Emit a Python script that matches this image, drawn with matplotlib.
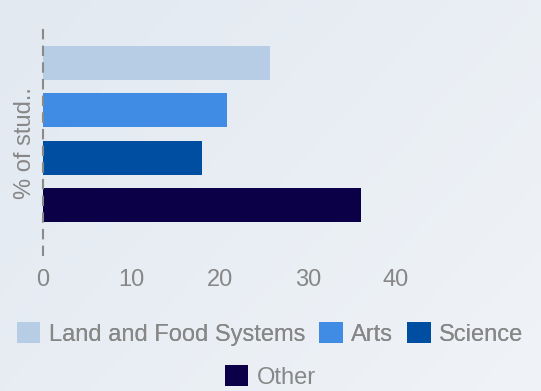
import numpy as np
import matplotlib
matplotlib.use("Agg")
import matplotlib.pyplot as plt
from matplotlib.patches import Patch
from matplotlib.colors import LinearSegmentedColormap

plt.rcParams['font.family'] = ['Liberation Sans', 'DejaVu Sans']

# Dados
categorias = ["Land and Food Systems", "Arts", "Science", "Other"]
valores = [25.7, 20.8, 18.0, 36.0]
cores = ["#b7cde6", "#408be3", "#004ea2", "#0b0048"]
ticks_x = [0, 10, 20, 30, 40]

cinza = "#878787"

fig = plt.figure(figsize=(5.41, 3.91), dpi=100)

# Fundo em gradiente suave
bg = fig.add_axes([0, 0, 1, 1], zorder=-10)
gx, gy = np.meshgrid(np.linspace(0, 1, 200), np.linspace(0, 1, 200))
grad = (gx * 0.6 + gy * 0.4)
cmap_bg = LinearSegmentedColormap.from_list("bg", ["#e2e9f1", "#f0f3f7"])
bg.imshow(grad, cmap=cmap_bg, aspect="auto", extent=[0, 1, 0, 1], origin="upper")
bg.axis("off")

ax = fig.add_axes([43 / 541, 136 / 391, 353 / 541, 233 / 391])
ax.patch.set_alpha(0)

pos = np.arange(len(categorias))
ax.barh(pos, valores, height=0.72, color=cores)

ax.set_xlim(0, 40)
ax.set_ylim(4.06, -0.87)
ax.set_xticks(ticks_x)
ax.set_yticks([])
ax.tick_params(axis="x", length=0, pad=10, labelsize=17, labelcolor=cinza)

for s in ["top", "right", "bottom"]:
    ax.spines[s].set_visible(False)
ax.spines["left"].set_color("#8a8a8a")
ax.spines["left"].set_linewidth(1.5)
ax.spines["left"].set_linestyle((0, (4, 4)))

fig.text(25 / 541, 1 - 143 / 391, "% of stud..", rotation=90, ha="center",
         va="center", fontsize=17, color=cinza)

# Legenda em duas linhas, centralizadas
handles = [Patch(facecolor=c, edgecolor="none", label=l) for c, l in zip(cores, categorias)]
leg_kw = dict(frameon=False, fontsize=17, labelcolor=cinza, handlelength=1.0,
              handleheight=1.0, handletextpad=0.35, columnspacing=0.6,
              borderaxespad=0, borderpad=0)
leg1 = fig.legend(handles=handles[:3], loc="center", ncol=3,
                  bbox_to_anchor=(270 / 541, 1 - 334 / 391), **leg_kw)
fig.add_artist(leg1)
fig.legend(handles=handles[3:], loc="center", ncol=1,
           bbox_to_anchor=(270 / 541, 1 - 377 / 391), **leg_kw)

fig.savefig("out.png", dpi=100)
